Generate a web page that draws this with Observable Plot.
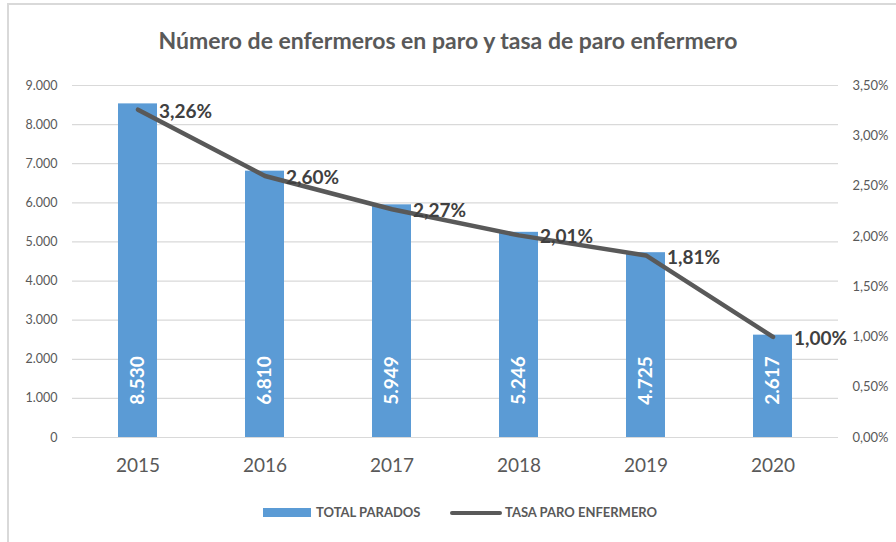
<!DOCTYPE html>
<html>
<head>
<meta charset="utf-8">
<script src="https://cdn.jsdelivr.net/npm/d3@7"></script>
<script src="https://cdn.jsdelivr.net/npm/@observablehq/plot@0.6"></script>
<style>
  html, body { margin: 0; padding: 0; background: #fff; }
  #wrap { position: relative; width: 896px; height: 542px; overflow: hidden; font-family: Lato, "Open Sans", sans-serif; }
  #frame { position: absolute; left: 7px; top: 3px; width: 900px; height: 560px; border-left: 2px solid #d9d9d9; border-top: 2px solid #d9d9d9; box-sizing: border-box; }
  #title { position: absolute; left: 0; top: 26px; width: 896px; text-align: center; font-size: 23px; font-weight: bold; color: #595959; }
  #chart { position: absolute; left: 0; top: 0; }
  .leg { position: absolute; top: 504px; font-size: 13px; font-weight: bold; color: #595959; line-height: 16px; white-space: nowrap; }
  .sw-bar { position: absolute; left: 263px; top: 508px; width: 48px; height: 9px; background: #5b9bd5; }
  .sw-line { position: absolute; left: 450px; top: 511px; width: 52px; height: 4px; border-radius: 2px; background: #595959; }
</style>
</head>
<body>
<div id="wrap">
  <div id="frame"></div>
  <div id="chart"></div>
  <div id="title">Número de enfermeros en paro y tasa de paro enfermero</div>
  <div class="sw-bar"></div>
  <div class="leg" style="left:316px">TOTAL PARADOS</div>
  <div class="sw-line"></div>
  <div class="leg" style="left:505px">TASA PARO ENFERMERO</div>
</div>
<script>
const years = ["2015", "2016", "2017", "2018", "2019", "2020"];
const parados = [8530, 6810, 5949, 5246, 4725, 2617];
const tasa = [3.26, 2.60, 2.27, 2.01, 1.81, 1.00];
const leftTicks = [0, 1000, 2000, 3000, 4000, 5000, 6000, 7000, 8000, 9000];
const rightTicks = [0, 0.5, 1.0, 1.5, 2.0, 2.5, 3.0, 3.5];

const leftMax = 9000, pctMax = 3.5;
const toLeft = p => p / pctMax * leftMax;

const loc = d3.formatLocale({decimal: ",", thousands: ".", grouping: [3], currency: ["", "€"]});
const fInt = loc.format(",d");
const fPct = loc.format(".2f");

const rows = years.map((y, i) => ({year: y, parados: parados[i], tasa: tasa[i], tasaY: toLeft(tasa[i])}));

const chart = Plot.plot({
  width: 896,
  height: 542,
  marginTop: 85,
  marginBottom: 105,
  marginLeft: 72,
  marginRight: 58,
  style: {fontFamily: "Lato, 'Open Sans', sans-serif", color: "#595959", background: "transparent", overflow: "visible"},
  x: {type: "band", domain: years, paddingInner: 0.69, paddingOuter: 0.345, axis: null, label: null},
  y: {domain: [0, leftMax], axis: null, label: null},
  marks: [
    Plot.ruleY(leftTicks, {stroke: "#d9d9d9", strokeWidth: 1.2}),
    Plot.barY(rows, {x: "year", y: "parados", fill: "#5b9bd5"}),
    Plot.text(rows, {x: "year", y: () => 0, dy: -57, text: d => fInt(d.parados), rotate: -90, fill: "white", fontWeight: "bold", fontSize: 19}),
    Plot.line(rows, {x: "year", y: "tasaY", stroke: "#595959", strokeWidth: 4.5, strokeLinecap: "round", strokeLinejoin: "round"}),
    Plot.text(rows, {x: "year", y: "tasaY", text: d => fPct(d.tasa) + "%", textAnchor: "start", dx: 21, dy: 2, fill: "#404040", fontWeight: "bold", fontSize: 19}),
    Plot.axisX(years, {tickSize: 0, tickPadding: 21, fontSize: 19, fill: "#595959", label: null}),
    Plot.axisY(leftTicks, {anchor: "left", tickSize: 0, tickPadding: 15, tickFormat: fInt, fontSize: 12.5, fill: "#595959", label: null}),
    Plot.axisY(rightTicks.map(toLeft), {anchor: "right", tickSize: 0, tickPadding: 14, tickFormat: d => fPct(d * pctMax / leftMax) + "%", fontSize: 13, fill: "#595959", label: null})
  ]
});
document.getElementById("chart").appendChild(chart);
</script>
</body>
</html>
